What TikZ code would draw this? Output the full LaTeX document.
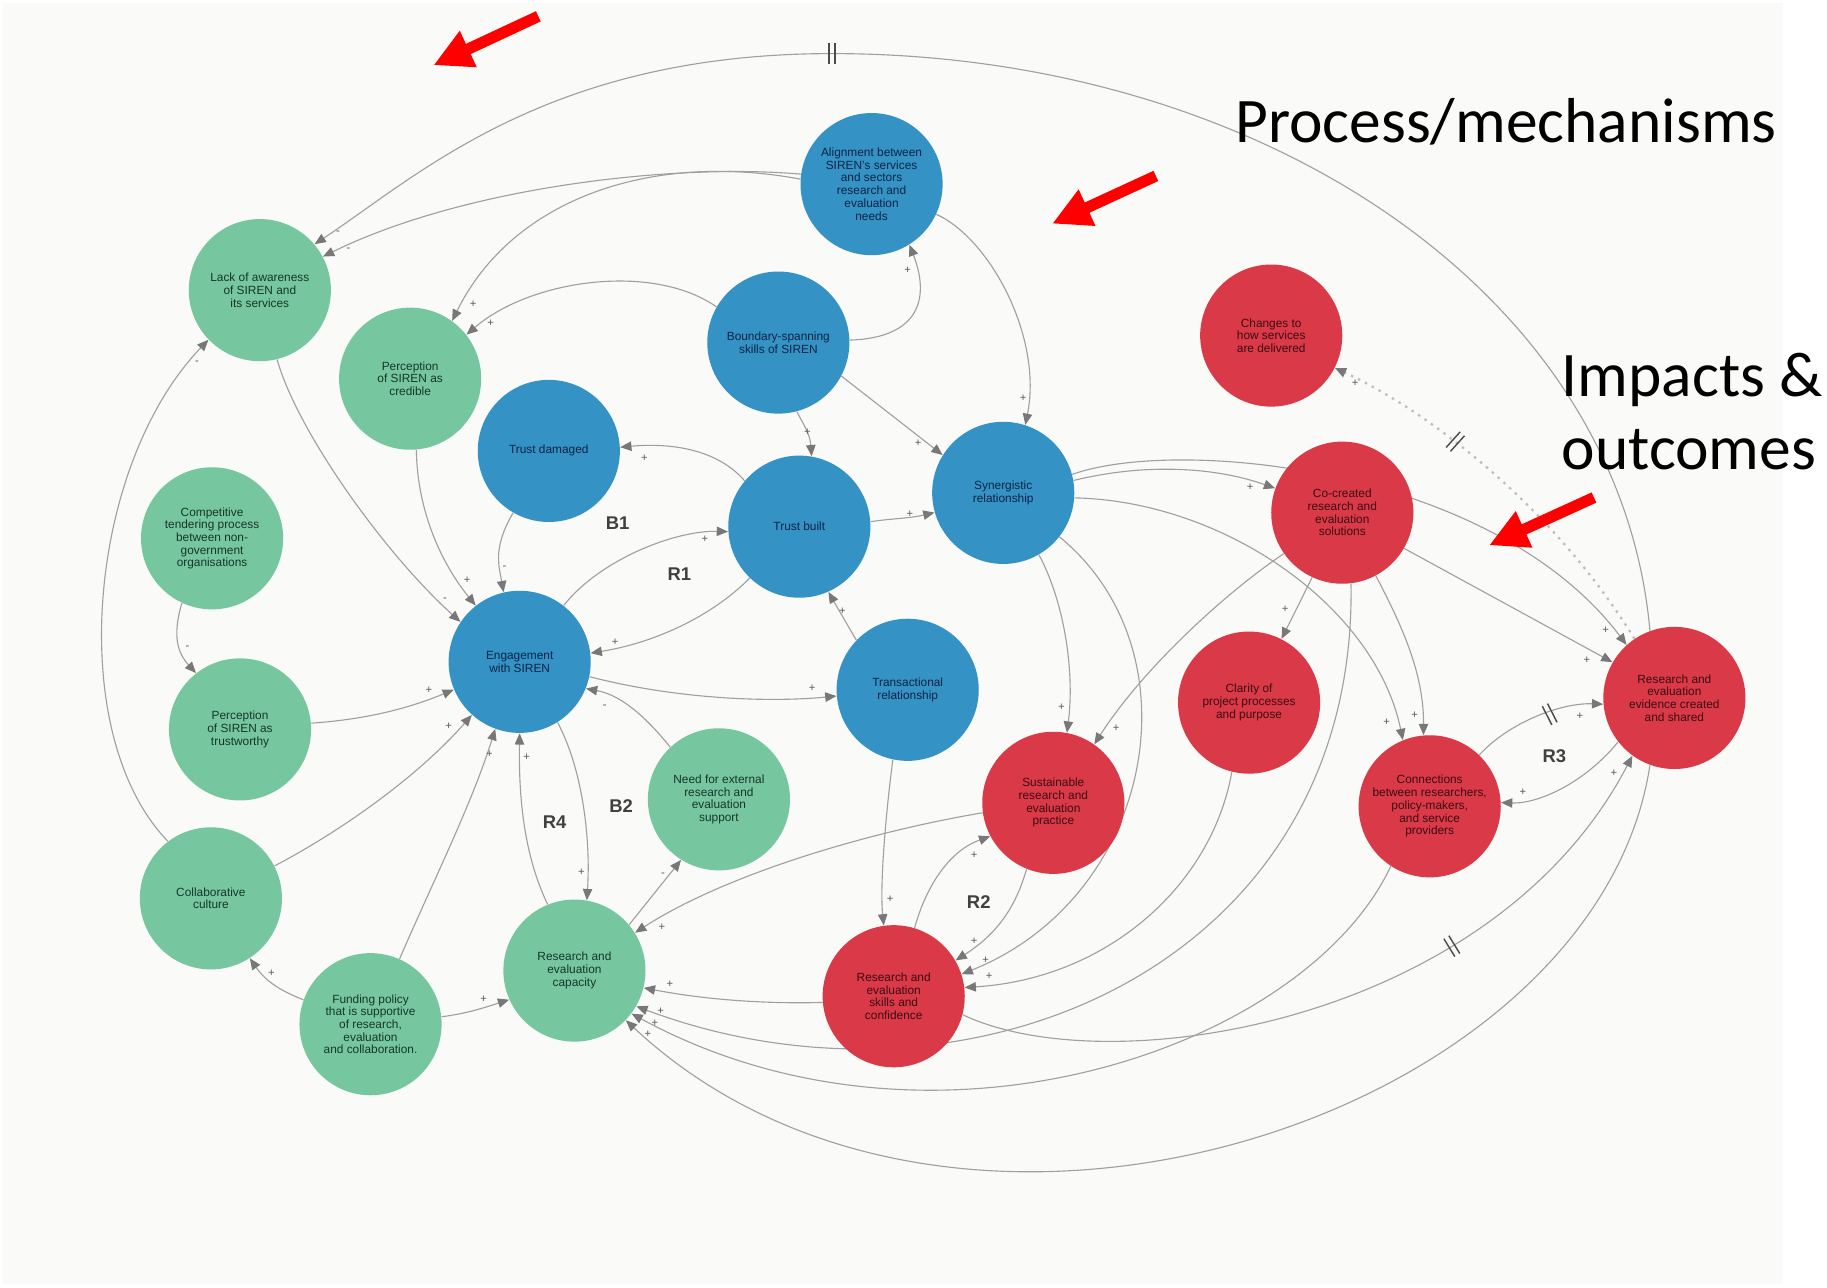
\documentclass[tikz,border=0pt]{standalone}
\usepackage{fontspec}
\setmainfont{Liberation Sans}
\newfontfamily\calfont{Carlito}
\usetikzlibrary{arrows.meta}
\definecolor{gcol}{RGB}{118,199,160}
\definecolor{bcol}{RGB}{52,146,196}
\definecolor{rcol}{RGB}{218,57,72}
\definecolor{tgreen}{RGB}{22,55,40}
\definecolor{tblue}{RGB}{12,36,70}
\definecolor{tred}{RGB}{60,12,18}
\definecolor{lgray}{RGB}{160,160,160}
\definecolor{agray}{RGB}{120,120,120}
\definecolor{dgray}{RGB}{190,190,190}
\definecolor{bgcol}{RGB}{250,250,248}
\pgfdeclarelayer{back}
\pgfdeclarelayer{edges}
\pgfsetlayers{back,edges,main}
\begin{document}
\begin{tikzpicture}[x=0.02cm,y=-0.02cm,
  circ/.style={circle, minimum size=2.44cm, inner sep=0pt, align=center, font=\fontsize{5.8}{6.2}\selectfont},
  gnode/.style={circ, fill=gcol, text=tgreen},
  bnode/.style={circ, fill=bcol, text=tblue},
  rnode/.style={circ, fill=rcol, text=tred},
  lnk/.style={draw=lgray, line width=0.55pt, -{Triangle[length=5.5pt,width=4.6pt,color=agray]}},
  dotlnk/.style={draw=dgray, line width=1.1pt, dash pattern=on 1.2pt off 2.6pt, -{Triangle[length=5.5pt,width=4.6pt,color=agray]}},
  sgn/.style={font=\fontsize{5.5}{6}\selectfont, text=black!65, inner sep=0pt},
  looplab/.style={font=\bfseries\fontsize{9}{10}\selectfont, text=black!75, inner sep=0pt},
  bigtxt/.style={font=\calfont\fontsize{31}{36}\selectfont, text=black, inner sep=0pt},
  redarrow/.style={draw=red, line width=5.5pt, -{Triangle[length=0.66cm,width=0.64cm]}},
  dl/.style={draw=black!70, line width=0.7pt},
  delaymark/.pic={\draw[dl] (-2.5,-9)--(-2.5,9) (2.5,-9)--(2.5,9);}
]
\useasboundingbox (0,0) rectangle (1568,1105);
\begin{pgfonlayer}{back}
\fill[bgcol] (3,3) rectangle (1530,1102);
\end{pgfonlayer}

% ---------- nodes ----------
\node[gnode] (aware)  at (223,249) {Lack of awareness\\of SIREN and\\its services};
\node[gnode] (cred)   at (352,325) {Perception\\of SIREN as\\credible};
\node[gnode] (tender) at (182,462) {Competitive\\tendering process\\between non-\\government\\organisations};
\node[gnode] (trustw) at (206,626) {Perception\\of SIREN as\\trustworthy};
\node[gnode] (collab) at (181,771) {Collaborative\\culture};
\node[gnode] (fund)   at (318,879) {Funding policy\\that is supportive\\of research,\\evaluation\\and collaboration.};
\node[gnode] (cap)    at (493,833) {Research and\\evaluation\\capacity};
\node[gnode] (need)   at (617,686) {Need for external\\research and\\evaluation\\support};
\node[bnode] (align)  at (748,158) {Alignment between\\SIREN's services\\and sectors\\research and\\evaluation\\needs};
\node[bnode] (bound)  at (668,294) {Boundary-spanning\\skills of SIREN};
\node[bnode] (tdam)   at (471,387) {Trust damaged};
\node[bnode] (tbuilt) at (686,452) {Trust built};
\node[bnode] (syn)    at (861,423) {Synergistic\\relationship};
\node[bnode] (eng)    at (446,568) {Engagement\\with SIREN};
\node[bnode] (trans)  at (779,592) {Transactional\\relationship};
\node[rnode] (change) at (1091,288) {Changes to\\how services\\are delivered};
\node[rnode] (cocre)  at (1152,440) {Co-created\\research and\\evaluation\\solutions};
\node[rnode] (clar)   at (1072,603) {Clarity of\\project processes\\and purpose};
\node[rnode] (sust)   at (904,689) {Sustainable\\research and\\evaluation\\practice};
\node[rnode] (skill)  at (767,855) {Research and\\evaluation\\skills and\\confidence};
\node[rnode] (conn)   at (1227,692) {Connections\\between researchers,\\policy-makers,\\and service\\providers};
\node[rnode] (evid)   at (1437,599) {Research and\\evaluation\\evidence created\\and shared};

% loop labels
\node[looplab] (lB1) at (530,449) {B1};
\node[looplab] (lR1) at (583,493) {R1};
\node[looplab] (lR4) at (476,706) {R4};
\node[looplab] (lB2) at (533,692) {B2};
\node[looplab] (lR2) at (840,774) {R2};
\node[looplab] (lR3) at (1334,649) {R3};

% big texts
\node[bigtxt, anchor=base west] (pm)  at (1060,122) {Process/mechanisms};
\node[bigtxt, anchor=base west] (imp) at (1340,340) {Impacts \&};
\node[bigtxt, anchor=base west] (out) at (1340,403) {outcomes};

% red arrows
\coordinate (a1t) at (462,14);   \coordinate (a1h) at (372,56);
\coordinate (a2t) at (992,151);  \coordinate (a2h) at (903,192);
\coordinate (a3t) at (1368,427); \coordinate (a3h) at (1278,468);
\draw[redarrow] (a1t) -- (a1h);
\draw[redarrow] (a2t) -- (a2h);
\draw[redarrow] (a3t) -- (a3h);

% ---------- connectors ----------
\begin{pgfonlayer}{edges}
% outer arc evid -> aware
\draw[lnk] (evid.110) .. controls (1390,250) and (1080,46) .. (714,46)
  .. controls (470,46) and (360,150) .. (aware.40) node[sgn] (s1) at (290,200) {-};
\pic at (714,46) {delaymark};
\draw[lnk] (align.172) .. controls (580,140) and (400,160) .. (aware.28) node[sgn] (s2) at (299,214) {-};
\draw[lnk] (align.176) .. controls (560,130) and (440,170) .. (cred.54) node[sgn] (s3) at (406,261) {+};
\draw[lnk] (bound.150) .. controls (560,225) and (455,240) .. (cred.38) node[sgn] (s4) at (421,277) {+};
\draw[lnk] (bound.2) .. controls (790,290) and (798,255) .. (align.302) node[sgn] (s5) at (779,232) {+};
\draw[lnk] (bound.285) .. controls (690,365) and (695,372) .. (tbuilt.80) node[sgn] (s6) at (693,371) {+};
\draw[lnk] (bound.332) -- (syn.148) node[sgn] (s7) at (788,380) {+};
\draw[lnk] (align.335) .. controls (850,205) and (895,290) .. (syn.72) node[sgn] (s8) at (878,342) {+};
\draw[lnk] (tbuilt.4) .. controls (765,445) and (780,445) .. (syn.196) node[sgn] (s9) at (781,441) {+};
\draw[lnk] (tbuilt.140) .. controls (615,385) and (575,380) .. (tdam.3) node[sgn] (s10) at (553,393) {+};
\draw[lnk] (tdam.240) .. controls (423,470) and (428,485) .. (eng.103) node[sgn] (s11) at (433,487) {-};
\draw[lnk] (cred.275) .. controls (358,440) and (380,485) .. (eng.128) node[sgn] (s12) at (401,498) {+};
\draw[lnk] (aware.284) .. controls (255,370) and (330,475) .. (eng.146) node[sgn] (s13) at (382,515) {-};
\draw[lnk] (collab.127) .. controls (55,630) and (75,400) .. (aware.224) node[sgn] (s14) at (169,311) {-};
\draw[lnk] (tender.245) .. controls (148,545) and (152,560) .. (trustw.128) node[sgn] (s15) at (161,556) {-};
\draw[lnk] (trustw.5) .. controls (320,617) and (355,606) .. (eng.203) node[sgn] (s16) at (368,592) {+};
\draw[lnk] (collab.27) .. controls (295,712) and (360,665) .. (eng.228) node[sgn] (s17) at (385,623) {+};
\draw[lnk] (fund.66) .. controls (370,760) and (405,690) .. (eng.250) node[sgn] (s18) at (420,647) {+};
\draw[lnk] (fund.160) .. controls (240,850) and (228,842) .. (collab.303) node[sgn] (s19) at (233,835) {+};
\draw[lnk] (fund.6) .. controls (400,870) and (415,865) .. (cap.204) node[sgn] (s20) at (415,858) {+};
\draw[lnk] (cap.112) .. controls (450,735) and (445,685) .. (eng.270) node[sgn] (s21) at (452,650) {+};
\draw[lnk] (eng.302) .. controls (500,660) and (507,720) .. (cap.80) node[sgn] (s22) at (499,749) {+};
\draw[lnk] (cap.40) -- (need.238) node[sgn] (s23) at (569,751) {-};
\draw[lnk] (need.133) .. controls (550,610) and (530,596) .. (eng.338) node[sgn] (s24) at (519,607) {-};
\draw[lnk] (eng.348) .. controls (580,600) and (660,603) .. (trans.185) node[sgn] (s25) at (697,591) {+};
\draw[lnk] (tbuilt.226) .. controls (610,530) and (560,552) .. (eng.7) node[sgn] (s26) at (528,551) {+};
\draw[lnk] (eng.52) .. controls (515,480) and (580,455) .. (tbuilt.184) node[sgn] (s27) at (605,463) {+};
\draw[lnk] (trans.136) -- (tbuilt.294) node[sgn] (s28) at (723,525) {+};
\draw[lnk] (trans.258) .. controls (760,700) and (755,760) .. (skill.98) node[sgn] (s29) at (764,772) {+};
\draw[lnk] (syn.300) .. controls (915,520) and (922,580) .. (sust.79) node[sgn] (s30) at (911,607) {+};
\draw[lnk] (syn.322) .. controls (1030,560) and (990,770) .. (skill.18) node[sgn] (s31) at (846,824) {+};
\draw[lnk] (sust.248) .. controls (870,785) and (850,805) .. (skill.30) node[sgn] (s32) at (836,808) {+};
\draw[lnk] (skill.73) .. controls (795,760) and (815,730) .. (sust.208) node[sgn] (s33) at (836,734) {+};
\draw[lnk] (clar.256) .. controls (1040,760) and (950,840) .. (skill.7) node[sgn] (s34) at (849,838) {+};
\draw[lnk] (sust.188) .. controls (740,715) and (620,752) .. (cap.32) node[sgn] (s35) at (568,796) {+};
\draw[lnk] (skill.185) .. controls (640,862) and (590,855) .. (cap.346) node[sgn] (s36) at (575,845) {+};
\draw[lnk] (cocre.277) .. controls (1165,830) and (830,970) .. (cap.330) node[sgn] (s37) at (567,868) {+};
\draw[lnk] (conn.237) .. controls (1120,900) and (800,1010) .. (cap.323) node[sgn] (s38) at (562,878) {+};
\draw[lnk] (evid.250) .. controls (1370,960) and (820,1140) .. (cap.316) node[sgn] (s39) at (556,888) {+};
\draw[lnk] (skill.345) .. controls (950,930) and (1280,880) .. (evid.234) node[sgn] (s40) at (1385,664) {+};
\pic[rotate=31.5] at (1246,812) {delaymark};
\draw[lnk] (conn.46) .. controls (1295,620) and (1340,603) .. (evid.185) node[sgn] (s41) at (1356,615) {+};
\pic[rotate=27] at (1330,613) {delaymark};
\draw[lnk] (evid.218) .. controls (1360,672) and (1320,690) .. (conn.3) node[sgn] (s42) at (1307,680) {+};
\draw[dotlnk] (evid.124) .. controls (1330,430) and (1220,350) .. (change.333) node[sgn] (s43) at (1163,329) {+};
\pic[rotate=138] at (1249,379) {delaymark};
\draw[lnk] (syn.15) .. controls (1010,375) and (1280,400) .. (evid.132) node[sgn] (s44) at (1378,541) {+};
\draw[lnk] (cocre.330) -- (evid.150) node[sgn] (s45) at (1362,567) {+};
\draw[lnk] (syn.10) .. controls (980,398) and (1040,400) .. (cocre.160) node[sgn] (s46) at (1073,418) {+};
\draw[lnk] (syn.356) .. controls (1050,430) and (1180,520) .. (conn.112) node[sgn] (s47) at (1190,620) {+};
\draw[lnk] (cocre.215) .. controls (1050,510) and (980,575) .. (sust.55) node[sgn] (s48) at (958,625) {+};
\draw[lnk] (cocre.245) -- (clar.63) node[sgn] (s49) at (1103,523) {+};
\draw[lnk] (cocre.298) .. controls (1205,540) and (1222,580) .. (conn.95) node[sgn] (s50) at (1214,614) {+};
\end{pgfonlayer}
\end{tikzpicture}
\end{document}
